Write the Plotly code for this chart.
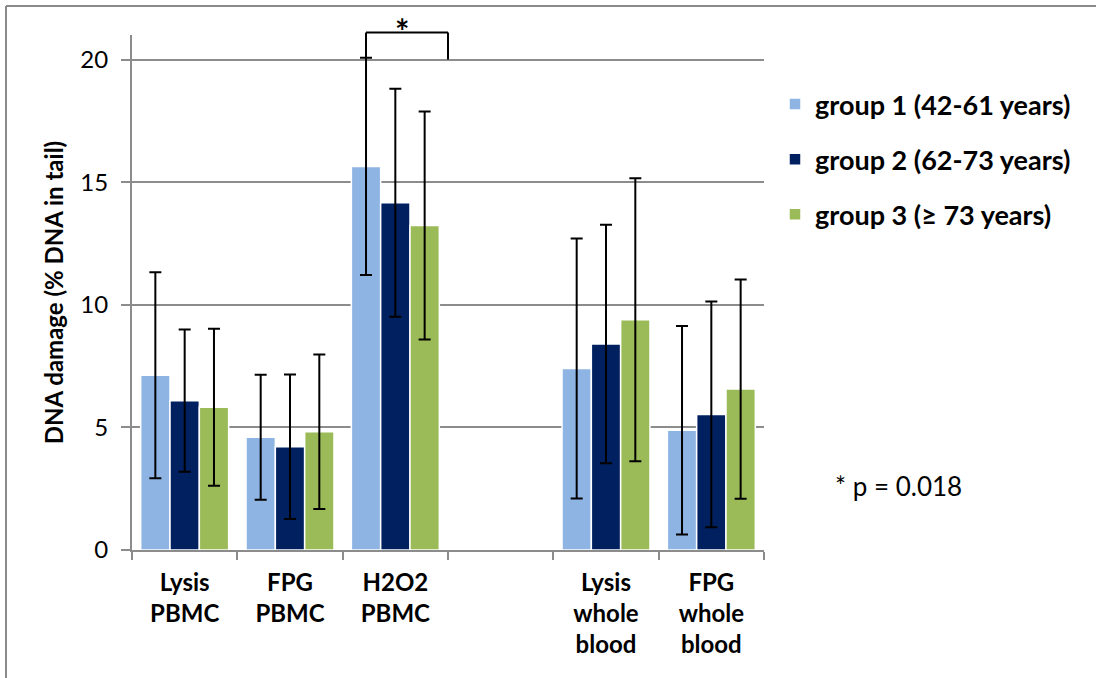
import plotly.graph_objects as go

categories = ["Lysis<br>PBMC", "FPG<br>PBMC", "H2O2<br>PBMC", " ",
              "Lysis<br>whole<br>blood", "FPG<br>whole<br>blood"]
series_names = ["group 1 (42-61 years)", "group 2 (62-73 years)", "group 3 (\u2265 73 years)"]
group1_mean = [7.13, 4.60, 15.64, None, 7.40, 4.88]
group1_sd = [4.20, 2.55, 4.43, None, 5.30, 4.25]
group2_mean = [6.09, 4.21, 14.16, None, 8.40, 5.53]
group2_sd = [2.90, 2.95, 4.65, None, 4.86, 4.60]
group3_mean = [5.82, 4.82, 13.23, None, 9.39, 6.56]
group3_sd = [3.20, 3.15, 4.65, None, 5.77, 4.47]
y_ticks = [0, 5, 10, 15, 20]
sig_note = "* p = 0.018"

colors = ["#8EB4E3", "#002060", "#9BBB59"]
FONT = "Lato"
GRID = "#8c8c8c"
BARGAP = 0.165
YMAX = 21.0

W, H = 1105, 678
ML, MR, MT, MB = 132, 341, 35, 128
PW, PH = W - ML - MR, H - MT - MB

def px_x(p):
    return (p - ML) / PW

def px_y(p):
    return (H - MB - p) / PH

fig = go.Figure()
for name, m, sd, c in zip(series_names,
                          [group1_mean, group2_mean, group3_mean],
                          [group1_sd, group2_sd, group3_sd], colors):
    fig.add_trace(go.Bar(
        x=categories, y=m, name=name, legendgroup=name,
        marker=dict(color=c, line=dict(color="white", width=1.5)),
        error_y=dict(type="data", array=sd, visible=True, color="black",
                     thickness=2, width=6),
    ))

# significance bracket between group 1 H2O2 and the slot edge
bw = (1 - BARGAP) / 3
i = 2
left_x = i - bw
right_x = i + 0.5
err_top = (group1_mean[i] + group1_sd[i]) / YMAX
bracket_top = 21.1 / YMAX
right_bottom = 20 / YMAX
line_style = dict(color="black", width=2)
fig.add_shape(type="line", xref="x", yref="paper", x0=left_x, x1=left_x,
              y0=err_top, y1=bracket_top, line=line_style)
fig.add_shape(type="line", xref="x", yref="paper", x0=left_x, x1=right_x,
              y0=bracket_top, y1=bracket_top, line=line_style)
fig.add_shape(type="line", xref="x", yref="paper", x0=right_x, x1=right_x,
              y0=right_bottom, y1=bracket_top, line=line_style)
fig.add_annotation(x=(left_x + right_x) / 2, y=bracket_top, xref="x", yref="paper",
                   text="<b>*</b>", showarrow=False, yanchor="bottom",
                   yshift=-20, xshift=-5,
                   font=dict(family=FONT, size=34, color="black"))

# outer frame (top and left edges visible)
fig.add_shape(type="line", xref="paper", yref="paper", x0=px_x(6), x1=px_x(1096),
              y0=px_y(6), y1=px_y(6), line=dict(color="#8a8a8a", width=2))
fig.add_shape(type="line", xref="paper", yref="paper", x0=px_x(6), x1=px_x(6),
              y0=px_y(6), y1=px_y(680), line=dict(color="#8a8a8a", width=2))

fig.add_annotation(x=px_x(833), y=px_y(486), xref="paper", yref="paper",
                   text=sig_note, showarrow=False, xanchor="left", yanchor="middle",
                   font=dict(family=FONT, size=26, color="black"))

fig.update_layout(
    width=W, height=H,
    margin=dict(l=ML, r=MR, t=MT, b=MB, autoexpand=False),
    paper_bgcolor="white", plot_bgcolor="white",
    barmode="group", bargap=BARGAP, bargroupgap=0,
    font=dict(family=FONT, color="black"),
    legend=dict(x=px_x(775), y=px_y(80), xanchor="left", yanchor="top",
                font=dict(family=FONT, size=27, color="black", weight="bold"),
                tracegroupgap=17, traceorder="grouped",
                bgcolor="rgba(0,0,0,0)"),
    showlegend=True,
)
fig.update_xaxes(
    type="category", categoryorder="array", categoryarray=categories,
    showgrid=False, showline=True, linecolor=GRID, linewidth=2,
    ticks="outside", tickson="boundaries", ticklen=8, tickcolor=GRID, tickwidth=2,
    tickfont=dict(family=FONT, size=24, color="black", weight="bold"),
    ticklabelstandoff=10,
)
fig.update_yaxes(
    range=[0, YMAX], tickvals=y_ticks, showgrid=True, gridcolor=GRID, gridwidth=2,
    zeroline=False, showline=True, linecolor=GRID, linewidth=2,
    ticks="outside", ticklen=9, tickcolor=GRID, tickwidth=2,
    tickfont=dict(family=FONT, size=24, color="black"),
    ticklabelstandoff=8,
    title=dict(text="DNA damage (% DNA in tail)", standoff=10,
               font=dict(family=FONT, size=24, color="black", weight="bold")),
)

fig.write_html("out.html")
